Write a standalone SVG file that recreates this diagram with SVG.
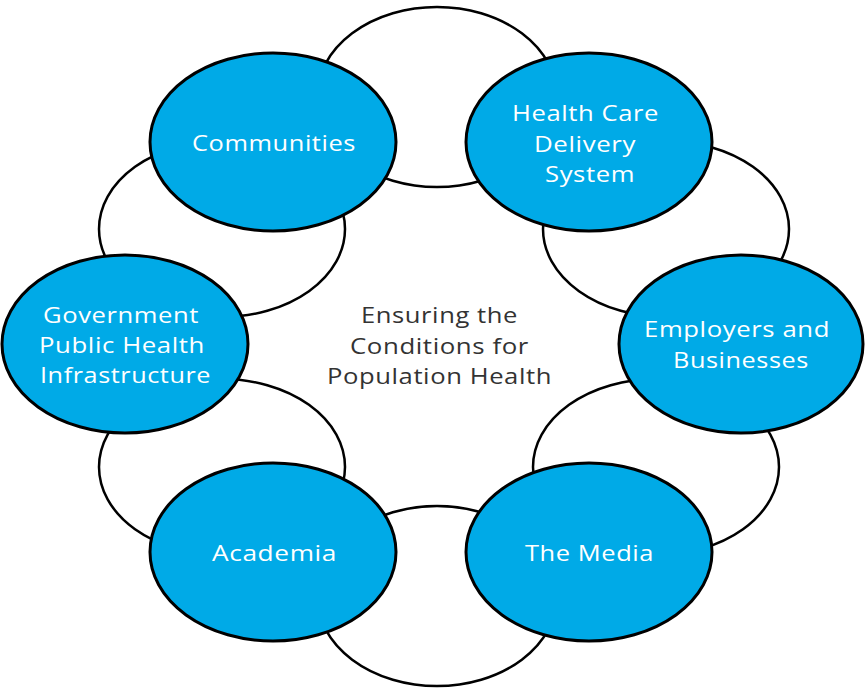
<svg xmlns="http://www.w3.org/2000/svg" width="865" height="693" viewBox="0 0 865 693">
<style>
.ring{fill:#ffffff;stroke:#000000;stroke-width:2.5}
.node{fill:#00AAE7;stroke:#000000;stroke-width:3}
.lbl{font-family:"Open Sans","Noto Sans","Liberation Sans",sans-serif;font-size:22px;fill:#ffffff;text-anchor:middle;font-variant-ligatures:none;letter-spacing:0.5px}
.ctr{font-family:"Open Sans","Noto Sans","Liberation Sans",sans-serif;font-size:22px;fill:#333333;text-anchor:middle;font-variant-ligatures:none;letter-spacing:0.5px}
</style>
<rect width="865" height="693" fill="#ffffff"/>
<g id="ring">
<ellipse class="ring" cx="437" cy="97" rx="120" ry="90"/>
<ellipse class="ring" cx="437" cy="596" rx="120" ry="90"/>
<ellipse class="ring" cx="222" cy="229" rx="123" ry="88"/>
<ellipse class="ring" cx="666" cy="229" rx="123" ry="88"/>
<ellipse class="ring" cx="222" cy="467" rx="123" ry="88"/>
<ellipse class="ring" cx="656" cy="467" rx="123" ry="88"/>
</g>
<g id="connectors"></g>
<g id="center">
<text class="ctr" x="439.5" y="323" textLength="157" lengthAdjust="spacingAndGlyphs">Ensuring the</text>
<text class="ctr" x="439.5" y="354" textLength="179" lengthAdjust="spacingAndGlyphs">Conditions for</text>
<text class="ctr" x="439.5" y="384" textLength="225" lengthAdjust="spacingAndGlyphs">Population Health</text>
</g>
<g id="communities">
<ellipse class="node" cx="273" cy="142" rx="123" ry="89"/>
<text class="lbl" x="274" y="151" textLength="164" lengthAdjust="spacingAndGlyphs">Communities</text>
</g>
<g id="health-care">
<ellipse class="node" cx="589" cy="142" rx="123" ry="89"/>
<text class="lbl" x="585.5" y="121" textLength="147" lengthAdjust="spacingAndGlyphs">Health Care</text>
<text class="lbl" x="585" y="152" textLength="102" lengthAdjust="spacingAndGlyphs">Delivery</text>
<text class="lbl" x="590" y="182" textLength="90" lengthAdjust="spacingAndGlyphs">System</text>
</g>
<g id="government">
<ellipse class="node" cx="125" cy="344" rx="123" ry="89"/>
<text class="lbl" x="121" y="323" textLength="156" lengthAdjust="spacingAndGlyphs">Government</text>
<text class="lbl" x="122" y="353" textLength="166" lengthAdjust="spacingAndGlyphs">Public Health</text>
<text class="lbl" x="125.5" y="383" textLength="171" lengthAdjust="spacingAndGlyphs">Infrastructure</text>
</g>
<g id="employers">
<ellipse class="node" cx="741" cy="344" rx="122" ry="89"/>
<text class="lbl" x="737" y="337" textLength="186" lengthAdjust="spacingAndGlyphs">Employers and</text>
<text class="lbl" x="741" y="368" textLength="136" lengthAdjust="spacingAndGlyphs">Businesses</text>
</g>
<g id="academia">
<ellipse class="node" cx="273" cy="552" rx="123" ry="89"/>
<text class="lbl" x="274.5" y="561" textLength="125" lengthAdjust="spacingAndGlyphs">Academia</text>
</g>
<g id="media">
<ellipse class="node" cx="589" cy="552" rx="123" ry="89"/>
<text class="lbl" x="589.5" y="561" textLength="129" lengthAdjust="spacingAndGlyphs">The Media</text>
</g>
</svg>
